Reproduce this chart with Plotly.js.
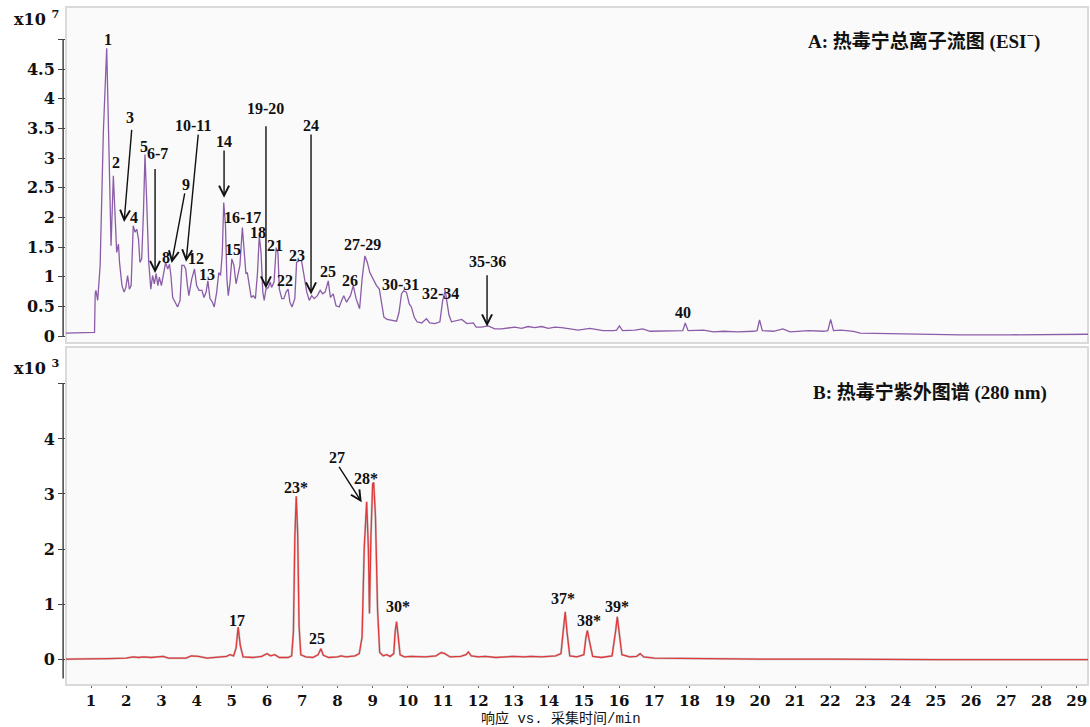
<!DOCTYPE html>
<html>
<head>
<meta charset="utf-8">
<script src="https://cdn.plot.ly/plotly-3.0.1.min.js"></script>
<style>html,body{margin:0;padding:0;background:#fff;}#chart{width:1090px;height:727px;}</style>
</head>
<body>
<div id="chart"></div>
<script>
// ---- Panel A: total ion chromatogram (x10^7) ----
const ticTime = [
  0.29, 0.5, 0.8, 1.07, 1.10, 1.12, 1.14, 1.19, 1.26, 1.35,
  1.446, 1.50, 1.57, 1.635, 1.68, 1.73, 1.78, 1.81, 1.88, 1.94,
  1.99, 2.04, 2.09, 2.14, 2.20, 2.25, 2.30, 2.35, 2.39, 2.44,
  2.49, 2.534, 2.58, 2.64, 2.70, 2.75, 2.80, 2.85, 2.90, 2.94,
  3.0, 3.06, 3.12, 3.18, 3.23, 3.27, 3.32, 3.39, 3.46, 3.53,
  3.58, 3.64, 3.69, 3.74, 3.78, 3.86, 3.94, 4.0, 4.07, 4.15,
  4.21, 4.27, 4.32, 4.38, 4.45, 4.50, 4.57, 4.63, 4.68, 4.73,
  4.77, 4.82, 4.86, 4.90, 4.95, 5.0, 5.06, 5.12, 5.18, 5.23,
  5.30, 5.36, 5.40, 5.44, 5.50, 5.55, 5.61, 5.67, 5.73, 5.78,
  5.83, 5.88, 5.92, 5.97, 6.04, 6.09, 6.13, 6.2, 6.26, 6.31,
  6.35, 6.42, 6.48, 6.54, 6.6, 6.65, 6.71, 6.79, 6.84, 6.91,
  6.98, 7.05, 7.13, 7.20, 7.27, 7.34, 7.43, 7.51, 7.58, 7.65,
  7.74, 7.80, 7.88, 7.96, 8.05, 8.12, 8.18, 8.26, 8.37, 8.45,
  8.53, 8.63, 8.70, 8.78, 8.85, 8.92, 9.02, 9.11, 9.19, 9.25,
  9.32, 9.41, 9.54, 9.68, 9.75, 9.82, 9.88, 9.96, 10.04, 10.10,
  10.18, 10.26, 10.39, 10.53, 10.62, 10.77, 10.91, 10.99, 11.06, 11.1,
  11.17, 11.24, 11.39, 11.53, 11.68, 11.86, 11.94, 12.09, 12.28, 12.47,
  12.66, 13.04, 13.23, 13.42, 13.6, 13.8, 13.99, 14.18, 14.37, 14.65,
  14.84, 15.17, 15.55, 15.84, 15.93, 16.01, 16.10, 16.45, 16.67, 16.88,
  17.36, 17.74, 17.81, 17.88, 17.96, 18.4, 18.68, 18.97, 19.35, 19.82,
  19.92, 19.99, 20.07, 20.39, 20.65, 20.86, 21.38, 21.81, 21.93, 22.01,
  22.09, 22.3, 22.66, 22.85, 23.8, 24.7, 25.7, 27.1, 29.15, 29.35
];
const ticSignal = [
  0.05, 0.05, 0.05, 0.05, 0.06, 0.72, 0.77, 0.60, 1.19, 3.42,
  4.85, 3.42, 1.52, 2.70, 2.08, 1.41, 1.55, 1.24, 0.85, 0.74,
  0.82, 1.02, 0.79, 0.85, 1.86, 1.75, 1.80, 1.63, 1.24, 1.30,
  2.08, 3.06, 2.31, 1.24, 0.79, 1.02, 0.88, 1.05, 0.85, 0.99,
  0.85, 1.02, 1.24, 1.13, 1.21, 1.02, 0.65, 0.57, 0.49, 0.60,
  1.19, 1.19, 1.13, 0.85, 0.68, 0.96, 1.13, 0.85, 0.77, 0.77,
  0.65, 0.74, 0.93, 0.63, 0.57, 0.49, 0.74, 1.07, 1.02, 1.41,
  2.25, 1.86, 0.96, 0.68, 0.91, 1.30, 1.19, 0.88, 1.07, 1.19,
  1.83, 1.41, 1.05, 1.07, 0.79, 0.65, 0.68, 0.63, 1.07, 1.69,
  1.41, 0.74, 0.60, 0.79, 0.82, 0.91, 0.82, 0.91, 1.49, 1.41,
  0.79, 0.63, 0.63, 0.74, 0.79, 0.57, 0.49, 0.63, 1.24, 1.27,
  1.27, 1.02, 0.74, 0.60, 0.68, 0.63, 0.68, 0.77, 0.71, 0.74,
  0.93, 0.65, 0.71, 0.51, 0.49, 0.60, 0.68, 0.57, 0.68, 0.85,
  0.63, 0.46, 0.96, 1.35, 1.24, 1.07, 0.96, 0.85, 0.79, 0.60,
  0.32, 0.28, 0.26, 0.25, 0.40, 0.71, 0.76, 0.74, 0.54, 0.49,
  0.32, 0.24, 0.22, 0.29, 0.22, 0.21, 0.24, 0.60, 0.77, 0.63,
  0.35, 0.24, 0.26, 0.28, 0.21, 0.22, 0.15, 0.15, 0.17, 0.12,
  0.12, 0.15, 0.13, 0.16, 0.14, 0.16, 0.13, 0.15, 0.14, 0.12,
  0.10, 0.13, 0.09, 0.09, 0.10, 0.17, 0.09, 0.10, 0.12, 0.08,
  0.08, 0.08, 0.09, 0.22, 0.09, 0.10, 0.07, 0.08, 0.07, 0.08,
  0.09, 0.27, 0.09, 0.08, 0.12, 0.07, 0.09, 0.08, 0.09, 0.28,
  0.09, 0.10, 0.08, 0.05, 0.04, 0.03, 0.02, 0.02, 0.03, 0.03
];

// ---- Panel B: UV 280 nm (x10^3) ----
const uvTime = [
  0.29, 1.0, 1.5, 2.0, 2.2, 2.35, 2.5, 2.7, 3.05, 3.2,
  3.7, 3.85, 4.05, 4.3, 4.6, 4.85, 4.95, 5.05, 5.12, 5.18,
  5.24, 5.32, 5.6, 5.85, 6.0, 6.1, 6.22, 6.35, 6.6, 6.7,
  6.75, 6.79, 6.83, 6.87, 6.91, 6.96, 7.1, 7.3, 7.45, 7.53,
  7.6, 7.75, 8.0, 8.1, 8.25, 8.5, 8.62, 8.7, 8.76, 8.83,
  8.88, 8.91, 8.95, 9.0, 9.03, 9.08, 9.14, 9.2, 9.3, 9.4,
  9.5, 9.6, 9.64, 9.68, 9.72, 9.78, 9.9, 10.1, 10.5, 10.8,
  10.95, 11.05, 11.2, 11.5, 11.65, 11.72, 11.8, 12.0, 12.2, 12.5,
  13.0, 13.3, 13.5, 13.8, 14.2, 14.35, 14.42, 14.47, 14.52, 14.6,
  14.8, 15.0, 15.06, 15.1, 15.15, 15.25, 15.5, 15.8, 15.9, 15.95,
  16.0, 16.08, 16.3, 16.5, 16.6, 16.7, 17.0, 18.0, 20.0, 22.0,
  25.0, 29.35
];
const uvSignal = [
  0.0, 0.0, 0.01, 0.02, 0.04, 0.03, 0.04, 0.03, 0.05, 0.02,
  0.02, 0.06, 0.05, 0.02, 0.03, 0.05, 0.08, 0.06, 0.20, 0.58,
  0.25, 0.04, 0.03, 0.05, 0.10, 0.06, 0.08, 0.03, 0.03, 0.06,
  0.50, 2.20, 2.96, 2.30, 0.60, 0.08, 0.04, 0.03, 0.08, 0.19,
  0.07, 0.03, 0.04, 0.06, 0.04, 0.06, 0.10, 0.40, 2.00, 2.86,
  2.00, 0.83, 2.20, 3.18, 3.21, 2.60, 0.90, 0.12, 0.06, 0.08,
  0.05, 0.10, 0.50, 0.68, 0.45, 0.08, 0.04, 0.05, 0.04, 0.06,
  0.12, 0.10, 0.04, 0.05, 0.08, 0.13, 0.06, 0.04, 0.05, 0.03,
  0.05, 0.04, 0.05, 0.04, 0.06, 0.10, 0.55, 0.86, 0.50, 0.06,
  0.04, 0.08, 0.40, 0.52, 0.35, 0.05, 0.03, 0.06, 0.50, 0.77,
  0.50, 0.08, 0.04, 0.05, 0.10, 0.04, 0.02, 0.01, 0.0, 0.0,
  -0.01, -0.01
];

// ---- Peak labels ----
const labelsA = ["1","2","3","4","5","6-7","8","9","10-11","12","13","14","15","16-17","18","19-20","21","22","23","24","25","26","27-29","30-31","32-34","35-36","40"];
const labelsAt = [1.48,1.71,2.11,2.22,2.51,2.90,3.13,3.70,3.90,3.98,4.30,4.78,5.03,5.29,5.74,5.97,6.23,6.51,6.85,7.25,7.73,8.36,8.70,9.78,10.94,12.25,17.82];
const labelsAv = [4.99,2.93,3.69,1.99,3.20,3.08,1.33,2.55,3.54,1.30,1.03,3.28,1.45,1.99,1.75,3.84,1.53,0.93,1.35,3.54,1.08,0.93,1.55,0.86,0.72,1.25,0.40];
// arrows (tail -> head) in panel A
const arrowsAtailT = [2.16,2.82,3.67,4.05,4.78,5.97,7.25,12.25];
const arrowsAtailV = [3.50,2.84,2.43,3.42,3.15,3.56,3.42,1.05];
const arrowsAheadT = [1.94,2.82,3.29,3.70,4.78,5.97,7.25,12.25];
const arrowsAheadV = [1.92,1.06,1.23,1.25,2.33,0.80,0.70,0.16];

const labelsB = ["17","23*","25","27","28*","30*","37*","38*","39*"];
const labelsBt = [5.15,6.82,7.42,7.99,8.81,9.72,14.41,15.15,15.94];
const labelsBv = [0.71,3.11,0.38,3.67,3.29,0.95,1.11,0.71,0.95];
const arrowsBtailT = [8.02];
const arrowsBtailV = [3.52];
const arrowsBheadT = [8.69];
const arrowsBheadV = [2.85];

const xTicks = Array.from({length: 29}, (_, i) => i + 1);
const yTicksA = [0,0.5,1,1.5,2,2.5,3,3.5,4,4.5,5];
const yTickTextA = ["0","0.5","1","1.5","2","2.5","3","3.5","4","4.5",""];
const yTicksB = [0,1,2,3,4,5];
const yTickTextB = ["0","1","2","3","4",""];

const titleA = "A: 热毒宁总离子流图 (ESI<sup>−</sup>)";
const titleB = "B: 热毒宁紫外图谱 (280 nm)";
const xTitle = "响应 vs. 采集时间/min";

const serifBold = {family: "'DejaVu Serif', 'Liberation Serif', serif", size: 16, color: "#111", weight: "bold"};
const xTickFont = {family: "'DejaVu Serif', 'Liberation Serif', serif", size: 15, color: "#111", weight: "bold"};
const labelFont = {family: "'Liberation Serif', 'Noto Sans CJK SC', serif", size: 16, color: "#111", weight: "bold"};
const titleFont = {family: "'Liberation Serif', 'Noto Sans CJK SC', serif", size: 19, color: "#111", weight: "bold"};

const traces = [
  {x: ticTime, y: ticSignal, xaxis: "x", yaxis: "y", mode: "lines", line: {color: "#8b5ca8", width: 1.3}, hoverinfo: "skip"},
  {x: uvTime, y: uvSignal, xaxis: "x2", yaxis: "y2", mode: "lines", line: {color: "#9a9a9a", width: 2.2}, opacity: 0.5, hoverinfo: "skip"},
  {x: uvTime, y: uvSignal, xaxis: "x2", yaxis: "y2", mode: "lines", line: {color: "#e0393b", width: 1.3}, hoverinfo: "skip"}
];

const annotations = [];
labelsA.forEach((t, i) => annotations.push({x: labelsAt[i], y: labelsAv[i], xref: "x", yref: "y", text: t, showarrow: false, font: labelFont}));
labelsB.forEach((t, i) => annotations.push({x: labelsBt[i], y: labelsBv[i], xref: "x2", yref: "y2", text: t, showarrow: false, font: labelFont}));
arrowsAtailT.forEach((_, i) => annotations.push({
  x: arrowsAheadT[i], y: arrowsAheadV[i], ax: arrowsAtailT[i], ay: arrowsAtailV[i],
  xref: "x", yref: "y", axref: "x", ayref: "y", text: "", showarrow: true,
  arrowhead: 5, arrowsize: 1.4, arrowwidth: 1.4, arrowcolor: "#111", standoff: 0, startstandoff: 0
}));
arrowsBtailT.forEach((_, i) => annotations.push({
  x: arrowsBheadT[i], y: arrowsBheadV[i], ax: arrowsBtailT[i], ay: arrowsBtailV[i],
  xref: "x2", yref: "y2", axref: "x2", ayref: "y2", text: "", showarrow: true,
  arrowhead: 5, arrowsize: 1.4, arrowwidth: 1.4, arrowcolor: "#111", standoff: 0, startstandoff: 0
}));
annotations.push({xref: "paper", yref: "paper", x: 0.955, y: 0.951, xanchor: "right", yanchor: "middle", text: titleA, showarrow: false, font: titleFont});
annotations.push({xref: "paper", yref: "paper", x: 0.962, y: 0.432, xanchor: "right", yanchor: "middle", text: titleB, showarrow: false, font: titleFont});
annotations.push({xref: "paper", yref: "paper", x: -0.053, y: 0.984, xanchor: "left", yanchor: "middle", text: "x10 <sup>7</sup>", showarrow: false, font: serifBold});
annotations.push({xref: "paper", yref: "paper", x: -0.053, y: 0.469, xanchor: "left", yanchor: "middle", text: "x10 <sup>3</sup>", showarrow: false, font: serifBold});
annotations.push({xref: "paper", yref: "paper", x: 0.484, y: -0.0495, xanchor: "center", yanchor: "middle", text: xTitle, showarrow: false, font: {family: "'Liberation Mono', 'Noto Sans CJK SC', monospace", size: 14, color: "#111"}});

const shapes = [
  {type: "rect", xref: "paper", yref: "paper", x0: 0, x1: 1, y0: 0.5044, y1: 1, line: {color: "#dadada", width: 2}, layer: "below"},
  {type: "rect", xref: "paper", yref: "paper", x0: 0, x1: 1, y0: 0, y1: 0.4985, line: {color: "#dadada", width: 2}, layer: "below"},
  {type: "line", xref: "paper", yref: "y", x0: -0.0028, x1: -0.0028, y0: 0, y1: 5, line: {color: "#444", width: 1.5}},
  {type: "line", xref: "paper", yref: "y2", x0: -0.0028, x1: -0.0028, y0: -0.35, y1: 5, line: {color: "#444", width: 1.5}}
];

const axisCommon = {showgrid: false, zeroline: false, showline: false};
const layout = {
  width: 1090, height: 727,
  margin: {l: 66, r: 2, t: 7, b: 42},
  paper_bgcolor: "#ffffff", plot_bgcolor: "#fafafa",
  showlegend: false,
  xaxis: Object.assign({}, axisCommon, {domain: [0, 1], anchor: "y", range: [0.29, 29.32], showticklabels: false, ticks: ""}),
  yaxis: Object.assign({}, axisCommon, {domain: [0.5044, 1], anchor: "x", range: [-0.118, 5.545], tickmode: "array", tickvals: yTicksA, ticktext: yTickTextA, ticks: "outside", ticklen: 7, tickcolor: "#444", tickwidth: 1, tickfont: serifBold}),
  xaxis2: Object.assign({}, axisCommon, {domain: [0, 1], anchor: "y2", range: [0.29, 29.32], tickmode: "array", tickvals: xTicks, ticktext: xTicks.map(String), ticks: "outside", ticklen: 2, tickcolor: "#666", tickwidth: 1, tickfont: xTickFont}),
  yaxis2: Object.assign({}, axisCommon, {domain: [0, 0.4985], anchor: "x2", range: [-0.47, 5.67], tickmode: "array", tickvals: yTicksB, ticktext: yTickTextB, ticks: "outside", ticklen: 7, tickcolor: "#444", tickwidth: 1, tickfont: serifBold}),
  annotations: annotations,
  shapes: shapes
};

Plotly.newPlot("chart", traces, layout, {staticPlot: true, displayModeBar: false});
</script>
</body>
</html>
